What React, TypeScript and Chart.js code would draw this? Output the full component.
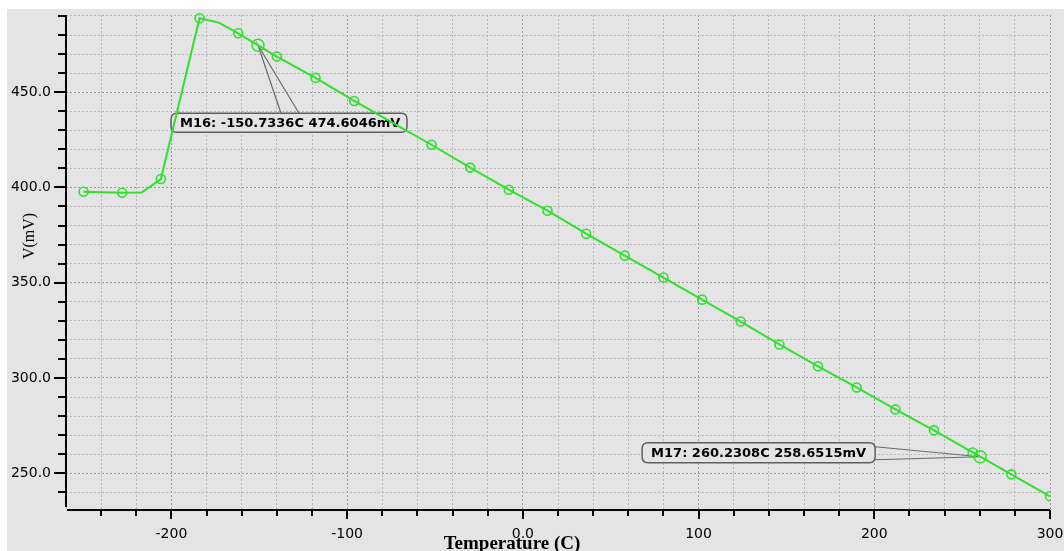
import React, { useEffect, useRef } from 'react';
import { Chart, registerables } from 'chart.js';

Chart.register(...registerables);

// ---- data ----
const temperatures = [
  -250, -228, -217, -206, -184, -173, -162, -140, -118, -96, -74, -52, -30, -8,
  14, 36, 58, 80, 102, 124, 146, 168, 190, 212, 234, 256, 278, 300,
];
const voltages = [
  397.7, 397.2, 397.3, 404.4, 488.8, 486.5, 480.9, 468.7, 457.5, 445.4, 433.9, 422.4, 410.4, 398.8,
  387.8, 375.7, 364.2, 352.7, 341.1, 329.6, 317.6, 306.1, 295.0, 283.5, 272.5, 260.9, 249.4, 237.9,
];
const symbolFlags = [
  1, 1, 0, 1, 1, 0, 1, 1, 1, 1, 0, 1, 1, 1,
  1, 1, 1, 1, 1, 1, 1, 1, 1, 1, 1, 1, 1, 1,
];
const markerNames = ['M16', 'M17'];
const markerTemps = [-150.7336, 260.2308];
const markerVolts = [474.6046, 258.6515];

const xLabelValues = [-200, -100, 0, 100, 200, 300];
const xLabelTexts = ['-200', '-100', '0.0', '100', '200', '300'];
const yLabelValues = [250, 300, 350, 400, 450];
const yLabelTexts = ['250.0', '300.0', '350.0', '400.0', '450.0'];

const xTitle = 'Temperature (C)';
const yTitle = 'V(mV)';

// ---- styles ----
const BG = '#e4e4e4';
const GREEN = '#2fe02f';
const TICK_FONT = '"DejaVu Sans", sans-serif';

const calloutLayout = [
  { dx: -87, dy: 68, w: 236, h: 19, side: 'top', a: 23, b: 41 },
  { dx: -338, dy: -14, w: 233, h: 20, side: 'right', a: 4, b: 17 },
];

const framePlugin = {
  id: 'frame',
  beforeDraw(chart: any) {
    const { ctx, width, height } = chart;
    ctx.save();
    ctx.fillStyle = '#ffffff';
    ctx.fillRect(0, 0, width, height);
    ctx.fillStyle = BG;
    ctx.fillRect(7, 9, width - 7, height - 9);
    ctx.restore();
  },
  afterDraw(chart: any) {
    const { ctx, chartArea: a, scales } = chart;
    const xs = scales.x;
    const ys = scales.y;
    ctx.save();
    ctx.strokeStyle = '#000';
    ctx.lineWidth = 2;
    ctx.beginPath();
    ctx.moveTo(a.left, a.top);
    ctx.lineTo(a.left, a.bottom - 3);
    ctx.moveTo(a.left + 1, a.bottom);
    ctx.lineTo(a.right, a.bottom);
    xs.ticks.forEach((t: any) => {
      const px = Math.round(xs.getPixelForValue(t.value));
      const len = xLabelValues.includes(t.value) ? 9 : 6;
      if (px <= a.left + 2) return;
      ctx.moveTo(px, a.bottom);
      ctx.lineTo(px, a.bottom + len);
    });
    ys.ticks.forEach((t: any) => {
      const py = Math.round(ys.getPixelForValue(t.value));
      const len = yLabelValues.includes(t.value) ? 12 : 8;
      ctx.moveTo(a.left, py);
      ctx.lineTo(a.left - len, py);
    });
    ctx.stroke();

    ctx.fillStyle = '#000';
    ctx.font = 'bold 19px "Liberation Serif", serif';
    ctx.textAlign = 'center';
    ctx.textBaseline = 'alphabetic';
    ctx.fillText(xTitle, 512, 549);

    ctx.translate(30, 236);
    ctx.rotate(-Math.PI / 2);
    ctx.font = '16px "Liberation Serif", serif';
    ctx.textBaseline = 'middle';
    ctx.fillText(yTitle, 0, 0);
    ctx.restore();
  },
};

function roundRect(ctx: any, x: number, y: number, w: number, h: number, r: number) {
  ctx.beginPath();
  ctx.moveTo(x + r, y);
  ctx.lineTo(x + w - r, y);
  ctx.quadraticCurveTo(x + w, y, x + w, y + r);
  ctx.lineTo(x + w, y + h - r);
  ctx.quadraticCurveTo(x + w, y + h, x + w - r, y + h);
  ctx.lineTo(x + r, y + h);
  ctx.quadraticCurveTo(x, y + h, x, y + h - r);
  ctx.lineTo(x, y + r);
  ctx.quadraticCurveTo(x, y, x + r, y);
  ctx.closePath();
}

const calloutPlugin = {
  id: 'callouts',
  beforeDatasetsDraw(chart: any) {
    const { ctx, scales } = chart;
    ctx.save();
    markerNames.forEach((name, i) => {
      const mx = scales.x.getPixelForValue(markerTemps[i]);
      const my = scales.y.getPixelForValue(markerVolts[i]);
      const c = calloutLayout[i];
      const left = mx + c.dx;
      const top = my + c.dy;
      const text = `${name}: ${markerTemps[i].toFixed(4)}C ${markerVolts[i].toFixed(4)}mV`;

      roundRect(ctx, left, top, c.w, c.h, 6);
      ctx.fillStyle = BG;
      ctx.fill();
      ctx.strokeStyle = '#5e5e5e';
      ctx.lineWidth = 1.5;
      ctx.stroke();

      let p1: number[];
      let p2: number[];
      if (c.side === 'top') {
        p1 = [mx + c.a, top];
        p2 = [mx + c.b, top];
      } else {
        p1 = [left + c.w, top + c.a];
        p2 = [left + c.w, top + c.b];
      }
      ctx.beginPath();
      ctx.moveTo(p1[0], p1[1]);
      ctx.lineTo(mx, my);
      ctx.lineTo(p2[0], p2[1]);
      ctx.strokeStyle = '#6a6a6a';
      ctx.lineWidth = 1.2;
      ctx.stroke();

      ctx.fillStyle = '#000';
      ctx.font = `bold 13px ${TICK_FONT}`;
      ctx.textAlign = 'left';
      ctx.textBaseline = 'middle';
      ctx.fillText(text, left + 9, top + c.h / 2 + 0.5);
    });
    ctx.restore();
  },
};

export default function App() {
  const canvasRef = useRef<HTMLCanvasElement | null>(null);

  useEffect(() => {
    const canvas = canvasRef.current;
    if (!canvas) return;
    const lineData = temperatures.map((t, i) => ({ x: t, y: voltages[i] }));
    const markerData = markerTemps.map((t, i) => ({ x: t, y: markerVolts[i] }));
    const clip = { left: 0, top: 10, right: 0, bottom: 0 };

    const chart = new Chart(canvas, {
      type: 'line',
      data: {
        datasets: [
          {
            data: markerData,
            showLine: false,
            borderColor: GREEN,
            backgroundColor: 'rgba(0,0,0,0)',
            pointRadius: 6,
            pointBorderWidth: 1.5,
            pointStyle: 'circle',
            clip,
          },
          {
            data: lineData,
            borderColor: GREEN,
            backgroundColor: 'rgba(0,0,0,0)',
            borderWidth: 2,
            tension: 0,
            pointRadius: (ctx: any) => (symbolFlags[ctx.dataIndex] ? 4.5 : 0),
            pointBorderWidth: 1.6,
            pointBackgroundColor: 'rgba(0,0,0,0)',
            pointBorderColor: GREEN,
            clip,
          },
        ],
      },
      options: {
        animation: false,
        responsive: false,
        devicePixelRatio: 1,
        events: [],
        layout: { padding: { left: 0, top: 15, right: 14, bottom: 0 } },
        plugins: {
          legend: { display: false },
          tooltip: { enabled: false },
          title: { display: false },
        },
        scales: {
          x: {
            type: 'linear',
            min: -260,
            max: 300,
            afterFit: (s: any) => {
              s.height = 41;
              s.paddingLeft = 0;
              s.paddingRight = 0;
            },
            ticks: {
              stepSize: 20,
              includeBounds: false,
              autoSkip: false,
              maxRotation: 0,
              minRotation: 0,
              padding: 16,
              color: '#000',
              font: { family: TICK_FONT, size: 14 },
              callback: (v: any) => {
                const i = xLabelValues.indexOf(Number(v));
                return i >= 0 ? xLabelTexts[i] : '';
              },
            },
            grid: {
              drawTicks: false,
              tickLength: 0,
              lineWidth: 1,
              color: (ctx: any) =>
                ctx.tick && xLabelValues.includes(ctx.tick.value) ? '#9c9c9c' : '#b6b6b6',
            },
            border: { display: false, dash: [2, 2] },
          },
          y: {
            type: 'linear',
            min: 230.7,
            max: 490.5,
            afterFit: (s: any) => {
              s.width = 66;
              s.paddingTop = 0;
              s.paddingBottom = 0;
            },
            ticks: {
              stepSize: 10,
              includeBounds: false,
              autoSkip: false,
              padding: 15,
              color: '#000',
              font: { family: TICK_FONT, size: 14 },
              callback: (v: any) => {
                const i = yLabelValues.indexOf(Number(v));
                return i >= 0 ? yLabelTexts[i] : '';
              },
            },
            grid: {
              drawTicks: false,
              tickLength: 0,
              lineWidth: 1,
              color: (ctx: any) =>
                ctx.tick && yLabelValues.includes(ctx.tick.value) ? '#9c9c9c' : '#b6b6b6',
            },
            border: { display: false, dash: [2, 2] },
          },
        },
      },
      plugins: [framePlugin, calloutPlugin],
    } as any);

    return () => chart.destroy();
  }, []);

  return (
    <div style={{ position: 'fixed', left: 0, top: 0, width: 1064, height: 551 }}>
      <canvas ref={canvasRef} width={1064} height={551} style={{ display: 'block' }} />
    </div>
  );
}
